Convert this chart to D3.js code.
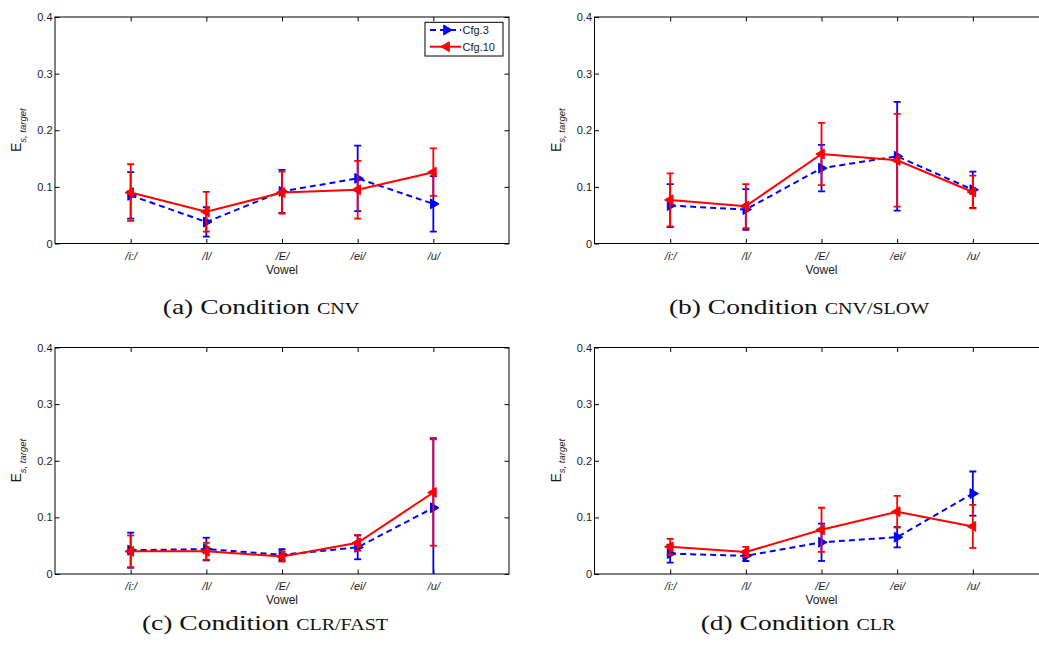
<!DOCTYPE html>
<html>
<head>
<meta charset="utf-8">
<script src="https://cdn.jsdelivr.net/npm/d3@7"></script>
<style>
  body { margin: 0; background: #fff; }
  svg { display: block; }
</style>
</head>
<body>
<svg id="fig" width="1039" height="654"></svg>
<script>
// Categories and axis ticks
const vowels = ["/i:/", "/I/", "/E/", "/ei/", "/u/"];
const yTicks = [0, 0.1, 0.2, 0.3, 0.4];
const seriesNames = ["Cfg.3", "Cfg.10"];

// Mean E_s,target per vowel and half-length of each error bar
// Condition CNV
const cnvCfg3     = [0.085, 0.038, 0.092, 0.115, 0.070];
const cnvCfg3Err  = [0.041, 0.026, 0.038, 0.058, 0.049];
const cnvCfg10    = [0.090, 0.056, 0.090, 0.095, 0.126];
const cnvCfg10Err = [0.050, 0.035, 0.037, 0.051, 0.042];
// Condition CNV/SLOW
const slowCfg3     = [0.067, 0.060, 0.133, 0.154, 0.095];
const slowCfg3Err  = [0.038, 0.036, 0.041, 0.096, 0.032];
const slowCfg10    = [0.077, 0.066, 0.158, 0.147, 0.091];
const slowCfg10Err = [0.047, 0.039, 0.055, 0.082, 0.029];
// Condition CLR/FAST
const fastCfg3     = [0.042, 0.044, 0.034, 0.047, 0.117];
const fastCfg3Err  = [0.031, 0.020, 0.010, 0.021, 0.123];
const fastCfg10    = [0.040, 0.040, 0.031, 0.055, 0.144];
const fastCfg10Err = [0.028, 0.015, 0.009, 0.014, 0.094];
// Condition CLR
const clrCfg3     = [0.036, 0.032, 0.056, 0.065, 0.142];
const clrCfg3Err  = [0.016, 0.009, 0.033, 0.018, 0.039];
const clrCfg10    = [0.048, 0.039, 0.078, 0.110, 0.084];
const clrCfg10Err = [0.014, 0.009, 0.039, 0.028, 0.038];

// Sub-figure captions: label prefix + condition name (set in small caps)
const captionPrefixes = ["(a) Condition ", "(b) Condition ", "(c) Condition ", "(d) Condition "];
const captionConds    = ["cnv", "cnv/slow", "clr/fast", "clr"];

const panels = [
  { means: [cnvCfg3, cnvCfg10],   errs: [cnvCfg3Err, cnvCfg10Err],   legend: true },
  { means: [slowCfg3, slowCfg10], errs: [slowCfg3Err, slowCfg10Err], legend: false },
  { means: [fastCfg3, fastCfg10], errs: [fastCfg3Err, fastCfg10Err], legend: false },
  { means: [clrCfg3, clrCfg10],   errs: [clrCfg3Err, clrCfg10Err],   legend: false }
];

// Layout
const W = 454, H = 226.5;
const origins = [{ x: 55, y: 17 }, { x: 594.5, y: 17 }, { x: 55, y: 347.5 }, { x: 594.5, y: 347.5 }];
const captionPos = [{ cx: 261, y: 314 }, { cx: 799, y: 314 }, { cx: 265, y: 629.5 }, { cx: 798, y: 629.5 }];
const colors = ["#0000ff", "#ff0000"];
const dashes = ["6,4", null];
const markerRot = [90, -90];   // right-pointing for Cfg.3, left-pointing for Cfg.10
const sansFont = "'Liberation Sans', Arial, Helvetica, sans-serif";
const serifFont = "'Liberation Serif', 'DejaVu Serif', serif";

const svg = d3.select("#fig");

const x = d3.scaleLinear().domain([0, vowels.length + 1]).range([0, W]);
const y = d3.scaleLinear().domain([0, 0.4]).range([H, 0]);
const tri = d3.symbol().type(d3.symbolTriangle).size(42);

panels.forEach((p, pi) => {
  const o = origins[pi];
  const g = svg.append("g").attr("transform", `translate(${o.x},${o.y})`);

  const clipId = "clip" + pi;
  g.append("clipPath").attr("id", clipId)
    .append("rect").attr("width", W).attr("height", H);

  // axes with inward ticks on every side
  const tickLen = 4.5;
  const fmt = d => d === 0 ? "0" : d3.format(".1f")(d);
  const styleAxis = a => {
    a.select(".domain").remove();
    a.selectAll(".tick line").attr("stroke", "#000").attr("stroke-width", 1);
    a.selectAll("text").attr("fill", "#1a1a1a").style("font-family", sansFont).style("font-size", "11px");
  };
  g.append("g").call(d3.axisLeft(y).tickValues(yTicks).tickSize(-tickLen).tickPadding(2.5).tickFormat(fmt)).call(styleAxis);
  g.append("g").attr("transform", `translate(${W},0)`)
    .call(d3.axisRight(y).tickValues(yTicks).tickSize(-tickLen).tickFormat("")).call(styleAxis);
  const catTicks = vowels.map((v, i) => i + 1);
  g.append("g").attr("transform", `translate(0,${H})`)
    .call(d3.axisBottom(x).tickValues(catTicks).tickSize(-tickLen).tickPadding(8.5).tickFormat(d => vowels[d - 1]))
    .call(styleAxis)
    .selectAll("text").style("font-style", "italic");
  g.append("g")
    .call(d3.axisTop(x).tickValues(catTicks).tickSize(-tickLen).tickFormat("")).call(styleAxis);

  g.append("rect").attr("width", W).attr("height", H)
    .attr("fill", "none").attr("stroke", "#000").attr("stroke-width", 1);

  // axis titles
  g.append("text").attr("x", W / 2).attr("y", H + 30)
    .attr("text-anchor", "middle").attr("fill", "#1a1a1a")
    .style("font-family", sansFont).style("font-size", "12px").text("Vowel");

  const yl = g.append("text")
    .attr("transform", `translate(${-34},${H / 2}) rotate(-90)`)
    .attr("text-anchor", "middle").attr("fill", "#1a1a1a")
    .style("font-family", sansFont).style("font-size", "14px");
  yl.append("tspan").text("E");
  yl.append("tspan").attr("dy", 4.5).style("font-size", "9.5px").style("font-style", "italic").text("s, target");

  // data series
  const plot = g.append("g").attr("clip-path", `url(#${clipId})`);
  p.means.forEach((m, si) => {
    const e = p.errs[si];
    const c = colors[si];
    const s = plot.append("g");
    const pts = m.map((v, i) => ({ xi: i + 1, v, e: e[i] }));
    const capW = 3.5;
    s.selectAll("line.bar").data(pts).join("line")
      .attr("x1", d => x(d.xi)).attr("x2", d => x(d.xi))
      .attr("y1", d => y(d.v - d.e)).attr("y2", d => y(d.v + d.e))
      .attr("stroke", c).attr("stroke-width", 1.8);
    [-1, 1].forEach(sign => {
      s.selectAll(null).data(pts).join("line")
        .attr("x1", d => x(d.xi) - capW).attr("x2", d => x(d.xi) + capW)
        .attr("y1", d => y(d.v + sign * d.e)).attr("y2", d => y(d.v + sign * d.e))
        .attr("stroke", c).attr("stroke-width", 1.8);
    });
    s.append("path").datum(pts)
      .attr("d", d3.line().x(d => x(d.xi)).y(d => y(d.v)))
      .attr("fill", "none").attr("stroke", c).attr("stroke-width", 2)
      .attr("stroke-dasharray", dashes[si]);
    s.selectAll("path.mk").data(pts).join("path")
      .attr("transform", d => `translate(${x(d.xi)},${y(d.v)}) rotate(${markerRot[si]})`)
      .attr("d", tri).attr("fill", c).attr("stroke", c).attr("stroke-width", 1);
  });

  // legend
  if (p.legend) {
    const lg = g.append("g").attr("transform", "translate(370,5.3)");
    lg.append("rect").attr("width", 78).attr("height", 33.7)
      .attr("fill", "#fff").attr("stroke", "#000").attr("stroke-width", 1);
    seriesNames.forEach((name, si) => {
      const ly = 7.7 + si * 16.7;
      lg.append("line").attr("x1", 5).attr("x2", 36).attr("y1", ly).attr("y2", ly)
        .attr("stroke", colors[si]).attr("stroke-width", 2).attr("stroke-dasharray", dashes[si]);
      lg.append("path").attr("transform", `translate(21.5,${ly}) rotate(${markerRot[si]})`)
        .attr("d", tri).attr("fill", colors[si]).attr("stroke", colors[si]);
      lg.append("text").attr("x", 37.5).attr("y", ly).attr("dy", "0.35em")
        .attr("fill", "#1a1a1a").style("font-family", sansFont).style("font-size", "11px").text(name);
    });
  }
});

// captions
captionPrefixes.forEach((pre, i) => {
  const cp = captionPos[i];
  const t = svg.append("text")
    .attr("transform", `translate(${cp.cx},${cp.y}) scale(1.25,1)`)
    .attr("text-anchor", "middle").attr("fill", "#111")
    .style("font-family", serifFont).style("font-size", "22px");
  t.append("tspan").text(pre);
  t.append("tspan").style("font-size", "16px").text(captionConds[i].toUpperCase());
});
</script>
</body>
</html>
